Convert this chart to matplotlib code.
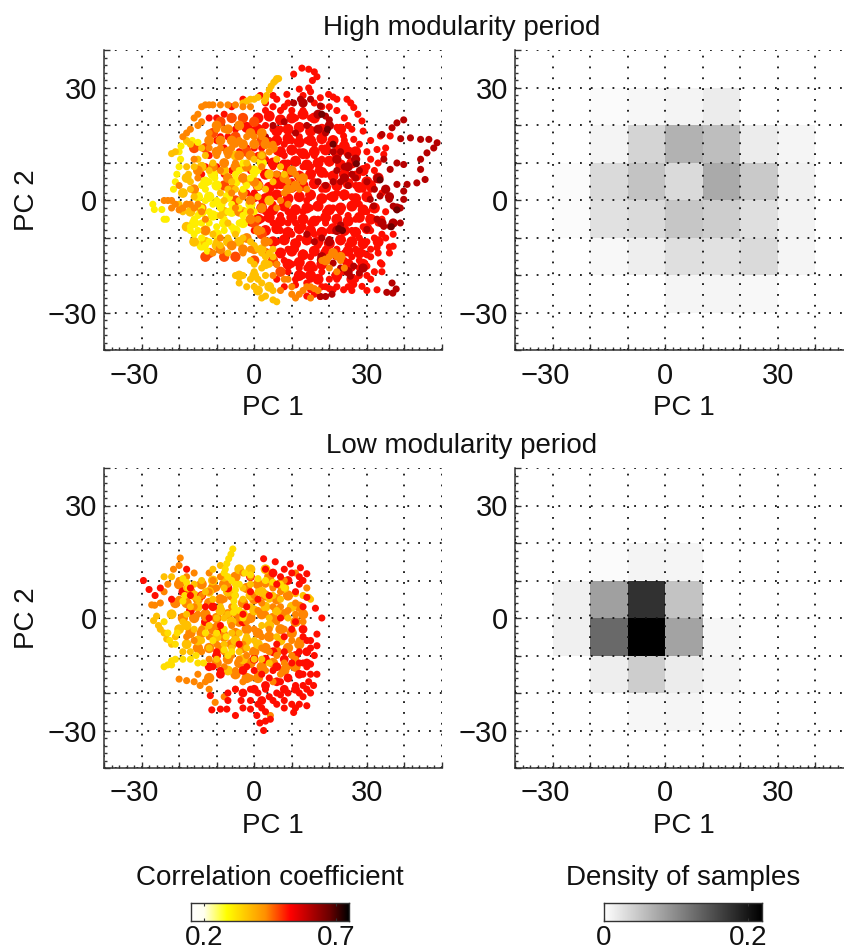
import matplotlib

matplotlib.use("Agg")
import matplotlib.pyplot as plt
import numpy as np
from matplotlib.colors import LinearSegmentedColormap, Normalize
from matplotlib.transforms import ScaledTranslation

plt.rcParams["font.family"] = ["Liberation Sans", "DejaVu Sans"]

W, H = 845, 951

# correlation level of each point group, scatter panels
CORR_YELLOW, CORR_GOLD, CORR_AMBER, CORR_ORANGE, CORR_REDORANGE, CORR_RED, CORR_DARK, CORR_DARKEST = 0.31, 0.33, 0.37, 0.44, 0.48, 0.52, 0.60, 0.67

# dense middle of the clouds, drawn first with larger dots
high_core_red = [
    (1, 22), (4, 22.5), (7, 21.5), (10, 22), (13, 23), (16, 22), (-2, 19.5), (1, 19), (6, 18.5), (9, 19), (12, 19.5), (15, 18.5),
    (18, 19), (23, 19), (6, 16), (9, 16.5), (12, 15.5), (15, 16), (18, 16.5), (21, 16), (24, 14.5), (27, 13), (7, 13), (10, 13.5),
    (13, 12.5), (16, 13), (19, 13.5), (22, 12.5), (25, 13), (5, 10), (8, 9.5), (11, 10.5), (14, 9.5), (17, 10), (20, 10.5), (23, 9.5),
    (26, 10), (29, 8), (3, 7), (6, 6.5), (9, 7.5), (12, 6.5), (15, 7), (18, 7.5), (21, 6.5), (24, 7), (27, 6.5), (30, 5), (33, 6),
    (1, 4), (4, 3.5), (7, 4.5), (10, 3.5), (13, 4), (16, 4.5), (19, 3.5), (22, 4), (25, 4.5), (28, 3.5), (31, 4), (0, 1), (3, 0.5),
    (6, 1.5), (9, 0.5), (12, 1), (15, 1.5), (18, 0.5), (21, 1), (24, 1.5), (27, 0.5), (30, 1), (2, -2), (5, -2.5), (8, -1.5), (11, -2.5),
    (14, -2), (17, -1.5), (20, -2.5), (23, -2), (26, -1.5), (29, -2.5), (32, -2), (1, -5), (4, -4.5), (7, -5.5), (10, -4.5), (13, -5),
    (16, -5.5), (19, -4.5), (22, -5), (25, -5.5), (28, -4.5), (31, -5), (3, -8), (6, -7.5), (9, -8.5), (12, -7.5), (15, -8), (18, -8.5),
    (21, -7.5), (24, -8), (27, -8.5), (30, -7.5), (5, -11), (8, -10.5), (11, -11.5), (14, -10.5), (17, -11), (20, -11.5), (23, -10.5),
    (26, -11), (29, -11.5), (33, -11), (7, -14), (10, -13.5), (13, -14.5), (16, -13.5), (19, -14), (22, -14.5), (25, -13.5), (28, -14),
    (9, -17), (12, -16.5), (15, -17.5), (18, -17), (25, -17), (29, -17), (12, -20), (15, -20), (17, -21), (22, -20), (26, -21),
]
high_core_redorange = [
    (-9, 21), (-6, 22), (-3, 22), (0, 21), (-5, 17), (-2, 13), (2, 16), (-8, 4), (-5, 0), (0, -6), (2, -9), (-5, -15), (0, -16),
    (3, -14), (5, -16), (-12, -14), (-11, 18), (-13, 14), (-16, 14), (-8, -15), (-13, -15), (7, -19),
]
high_core_orange = [
    (-10, 20), (-7, 19), (-4, 20), (-1, 18), (2, 18), (-12, 16), (-9, 16), (-6, 16), (-3, 15), (0, 15), (3, 15), (5, 14), (-10, 13),
    (-7, 13), (-4, 12), (-1, 12), (2, 12), (-11, 9), (-8, 10), (-5, 9), (-2, 9), (-3, 6), (0, 5), (-7, 6), (10, 8), (8, 6), (11, 4),
    (13, 6), (9, 3), (-6, 3), (-3, 2), (-1, 0), (2, -2), (-4, -3), (-1, -5), (1, -8), (3, -11), (-2, -10), (-6, -12), (-9, -13), (-3, -13),
    (0, -13), (21, -14), (23, -15), (19, -16), (-13, -8), (-16, 3), (-15, 8), (-14, -2),
]
high_core_amber = [
    (-18, 6), (-19, 2), (-17, -3), (-18, -7), (-16, -11), (-13, -11), (-10, -12), (-7, -11), (-4, -11), (-14, 9), (-8, 8), (-5, 12),
    (-2, 5), (1, 4), (4, 7), (4, 0), (-3, -3), (-8, -3), (2, -13), (3, -17), (0, -20), (1, -24), (-4, -20), (4, -23),
]
high_core_yellow = [
    (-16, -6), (-13, -8), (-10, -9), (-14, -3), (-11, -4), (-8, -6), (-5, -8), (-15, 1), (-12, 1), (-9, -1), (-6, -3), (-3, -6),
    (-13, 5), (-10, 4), (-7, 1), (-11, 7), (-5, 5), (-3, 9), (0, 8), (2, 10), (-14, -12), (-1, -1),
]
high_core_dark = [
    (22, 11), (25, 9), (27, 11), (24, 6), (20, 20), (17, 23), (13, 26), (17, 19), (36, 1), (38, -2), (34, -6), (37, -6), (35, 3), (33, 6),
    (22, -8), (20, -11), (18, -15), (25, -19), (29, -18),
]

low_core_orange = [
    (-20, 9), (-17, 7), (-14, 9), (-11, 8), (-8, 9), (-5, 11), (-2, 8), (1, 9), (4, 11), (7, 9), (-21, 4), (-18, 4), (-15, 5), (-12, 4),
    (-9, 5), (-6, 6), (-3, 4), (0, 5), (3, 6), (6, 5), (9, 6), (12, 3), (-19, 0), (-16, 0), (-13, 1), (-10, 0), (-7, 1), (-4, -1), (-1, 0),
    (2, 1), (5, 0), (8, 1), (11, -1), (13, 1), (-17, -4), (-14, -4), (-11, -3), (-8, -5), (-5, -4), (-2, -3), (1, -4), (4, -5), (7, -3),
    (10, -4), (-15, -8), (-12, -8), (-9, -8), (-6, -7), (-3, -8), (0, -9), (3, -8), (6, -9), (9, -8), (12, -7), (-10, -12), (-7, -11),
    (-4, -12), (-1, -12), (2, -13), (5, -12), (8, -14), (11, -13), (-5, -15), (-2, -16), (1, -16), (-12, -16),
]
low_core_amber = [
    (-22, 1), (-20, -3), (-18, -7), (-15, 3), (-12, 7), (-9, 2), (-6, -1), (-3, 1), (0, 2), (3, 3), (6, 2), (-1, 6), (2, 7), (5, 9), (-7, 7),
    (-10, -5), (-13, -2), (-5, -6), (-2, -6), (1, -7), (4, -2), (7, -6), (-16, 6), (-8, 11), (-4, 13), (-1, 13), (3, 13), (-3, -11), (-7, -14),
    (-15, -6), (-11, 10), (10, 3), (8, 8), (-18, -2),
]
low_core_red = [
    (-14, 6), (-19, 7), (-13, -1), (-11, 3), (-9, -3), (-17, 2), (-12, -13), (-9, -15), (-10, -10), (-7, 8), (-3, -1), (0, -11), (3, -11),
    (5, -9), (6, -13), (8, -11), (9, -16), (11, -10), (12, -15), (14, -9), (13, -3), (14, -12), (6, -17), (3, -18), (0, -19), (-3, -20),
    (8, -19), (11, -19), (2, -22), (-1, 11), (5, 12), (-3, -14), (9, 10),
]

high_red = [
    (1.6, 28), (5, 28), (8.7, 28.3), (12, 29.7), (14.5, 30), (10.5, 33.7), (12.7, 35.3), (14.5, 35), (16, 34.3),
    (16.7, 33), (15.5, 32), (17.6, 27.4), (19.8, 28.3), (21, 27.6), (22, 27), (24.7, 27), (25.7, 26), (26.5, 24.8),
    (27.6, 23), (28.7, 21.2), (29, 18.5), (26.5, 16.3), (23.8, 17.2), (33.6, 17.2), (36.2, 17.2), (32.7, 13.6),
    (34.5, 12.3), (37, -12.2), (36, -12.4), (32.7, -12.6), (33.6, -16.6), (30, -17.5), (15, -23.8), (17.6, -25.6),
    (21, -23.8), (23.8, -23.8), (26.5, -22.4), (28.7, -22.9), (32.7, -23.8), (-3, 27), (-6, 25), (-8, 23), (-10, 22),
    (-12, 22), (-14, 7), (-13, 9), (-12, 12), (-10, 16), (-9, 17), (-8, 14), (-7, 17), (-5, 19), (-3, 20), (-1, 19),
    (1, 19), (3, 20), (5, 19), (7, 19), (9, 19), (11, 22), (13, 24), (15, 22), (7, 24), (9, 26), (5, 25), (3, 24),
    (-6, 8), (-4, 13), (-2, 14), (0, 14), (2, 14), (4, 16), (6, 16), (8, 15), (10, 16), (12, 17), (14, 16), (16, 15),
    (18, 14), (20, 15), (22, 14), (24, 16), (6, 13), (8, 12), (10, 13), (12, 13), (14, 12), (16, 12), (18, 11),
    (20, 10), (22, 12), (-1, 8), (1, 5), (3, 7), (5, 9), (9, 10), (11, 10), (13, 9), (15, 9), (17, 8), (19, 7), (21, 7),
    (24, 6), (27, 4), (29, 3), (31, 3), (0, 2), (2, 0), (4, 2), (6, 4), (8, 4), (10, 5), (12, 1), (14, 0), (16, 4),
    (18, 3), (20, 1), (22, 2), (24, 2), (26, 1), (28, -1), (30, -3), (32, -5), (34, -5), (3, -3), (5, -1), (7, -4),
    (9, -3), (11, -2), (13, -3), (15, -2), (17, -1), (19, -3), (21, -2), (23, -3), (25, -4), (27, -5), (29, -7),
    (31, -8), (33, -6), (5, -6), (7, -8), (9, -6), (11, -6), (13, -7), (15, -6), (17, -5), (19, -6), (24, -7), (26, -8),
    (28, -10), (30, -11), (32, -10), (34, -9), (6, -11), (8, -10), (10, -9), (12, -10), (14, -11), (16, -9), (18, -8),
    (20, -8), (23, -11), (25, -12), (27, -13), (29, -14), (7, -14), (9, -13), (11, -13), (13, -14), (15, -15), (17, -12),
    (19, -13), (22, -13), (24, -14), (26, -15), (28, -16), (31, -15), (6, -17), (8, -16), (10, -17), (12, -18), (14, -18),
    (16, -18), (18, -19), (20, -21), (22, -21), (24, -19), (26, -18), (28, -18), (9, -19), (11, -21), (13, -20), (15, -21),
    (17, -21), (19, -23), (-2, 2), (-1, -6), (2, -5), (0, -8), (-2, 5), (-8, 7), (-10, 9), (1, 12), (3, 11), (12, 6),
]
# sparse loops around the rim of the high modularity cloud
high_rim_red = [
    (3, 26), (6, 27), (8, 25), (10, 24), (13, 28), (15, 29), (16, 26), (18, 25), (20, 25), (22, 24), (24, 22), (25, 20), (22, 19.5), (26, 19),
    (28, 15), (30, 13), (31, 16), (31, 11), (33, 10), (35, 14), (30, 9), (32, 8), (34, 2), (35, -3), (35, -10), (36, -14), (33, -14), (31, -13),
    (30, -14.5), (28, -20), (30, -20), (27, -21), (25, -23), (22, -23), (20, -23.5), (18, -23), (16, -25), (14, -25.5), (26, -24), (30, -24),
    (32, -19), (34, -19), (31, -21), (14, -22), (11, -22.5), (8, -23), (6, -21), (24, -16), (34, -17), (37, -9),
]
high_dark = [
    (38, 20.7), (39.8, 21.5), (36.7, 19.4), (34, 17.6), (39, 16.5), (41.6, 16.7), (44.3, 16.3), (46.5, 16.3), (48.7, 15.4),
    (47.8, 14), (46, 12.7), (44.3, 11), (39.8, 9.6), (44.3, 8.3), (45.5, 5.6), (43.3, 4.7), (40.7, 4.3), (38, 4.3),
    (39.8, 2.5), (39.8, 0.3), (38.9, -2), (37, -1.5), (36, 0.3), (33.5, 1.2), (38.9, -6), (36.2, -6.9), (34.5, -6.9),
    (32.7, 5.6), (36.2, 8.3), (38, 10), (34.5, 11), (32.7, -5), (30, -7.7), (30.9, 0.3), (31.8, -1.5), (36.9, -24.7),
    (37.8, -23.6), (36.7, -22), (35.3, -24.5), (10.5, 26), (12.3, 27), (15, 27), (17.6, 25.2), (19, 22.5), (20, 21.5),
    (19, 18), (17, 19), (14, 20), (11, 18), (8, 21), (5, 20), (3, 17), (21, 13), (23, 13), (25, 12), (27, 10), (28, 8),
    (26, 7), (24, 9), (22, 8), (21, 5), (23, 5), (25, 4), (27, 6), (30, 5), (32, 3), (17, 5), (19, 4), (22, -7.7),
    (23, -6.5), (20, -10.4), (18, -10), (17.6, -15.8), (21, -16.7), (23, -18), (25.6, -20.2), (28, -19.3), (26.5, -17.5),
    (17.6, -25.6), (20.7, -25), (19, -25.6), (14, -9), (16, -11),
]
high_darkest = [(27.2, 9.8), (33.5, 5.5), (22.5, -7.5), (23.5, -8), (36.5, -7), (38, -2.5), (21, 15), (19.5, 19), (18, 23)]
high_orange = [
    (-24, 0), (-23, 0), (-22, 0), (-21, -1), (-20, -2.5), (-19, -2), (-18, -1), (-17, -1), (-16, -2), (-15, -1), (-14, -3),
    (-13, -5), (-22, -2), (-20, 4), (-16, 22), (-15, 23), (-14, 25), (-13, 25.5), (-12, 25.5), (-11, 25.5), (-9, 25.5),
    (-7, 25.5), (-5, 25.5), (-3, 25), (-1, 25), (-14, 21), (-15, 20), (-17, 19), (-18, 18), (-19, 17), (-7, 12), (-6, 14),
    (-5, 15), (-4, 16), (-2, 17), (0, 17), (2, 17), (3, 16), (5, 15), (4, 13), (-8, 10), (-9, 8), (-10, 12), (-12, 14),
    (-12, 18), (-10, 19), (-8, 19), (-6, 2), (-5, -2), (-3, 1), (-1, -3), (1, -5), (2, -8), (3, -11), (-1, -13), (-3, -14),
    (-6, -12), (-9, -10), (-11, -14), (10, 8), (11, 7), (12, 6), (13, 5), (14, 3), (12, 3), (10, 3), (9, 5), (8, 2), (7, 0),
    (6, -2), (9, -1), (18, -16), (20, -15), (22, -15), (23, -16), (24, -18), (22, -19), (20, -18), (12, -25), (13, -24),
    (14, -23), (15, -23), (16, -23.5), (17, -24), (15, -26), (11, -26), (10, -25), (10, -23), (9, -21), (8, -21), (7, -24),
    (5, -20), (6, -17), (4, -11), (-16, 11), (-15, 6), (-9, 14), (-5, 10), (2, 9), (6, 7),
]
high_amber = [
    (6, 32.5), (6.5, 32.5), (5.7, 32), (5.2, 31.5), (4.5, 30.5), (4, 29.5), (3.3, 28), (3, 27), (2.7, 26.5), (1, 27.5), (0, 27),
    (-1, 27), (-2, 26.5), (-3, 26), (-21, 13), (-22, 12.5), (-18, 9), (-17.5, 7), (-17, 5), (-17, 3), (-16, 1), (-18, -1),
    (-20, -1), (-19, -3), (-18, 16), (-17, 15), (-14, 14), (-15, 11), (-16, 9), (-13, 12), (-12, 8), (-11, 10), (-9, 2), (-8, 0),
    (-7, 3), (-6, 5), (-5, 3), (-4, 0), (-9, -4), (-7, -6), (-11, -9), (-10, -11), (-9, -12), (-7, -10), (-5, -9), (-3, -10),
    (-1, -11), (0, -12), (1, -13), (2, -14), (3, -15), (4, -14), (5, -13), (5, -15), (4, -17), (2, -18), (0, -17), (0, -19),
    (-1, -21), (-3, -20), (-5, -20), (-4, -22), (0, -23), (2, -22), (4, -23), (5, -24), (2, -26), (3, -25.5), (5, -26.5), (6, -27),
    (-2, -23), (-1, -16), (1, -21), (3, -20), (-7, -14), (-2, 10), (0, 11), (2, 12), (4, 13), (6, 11), (7, 9), (8, 7), (5, 5),
    (3, 3), (1, 1),
]
high_yellow = [
    (-27, -1), (-26.6, -2.4), (-24.6, -2.4), (-24, -5), (-23.4, -5), (-21.5, 3), (-21, 5), (-20.6, 7), (-20, 9), (-19.6, 11),
    (-20, 13), (-19.5, 14.5), (-18, 15.7), (-16.5, 16), (-15, 15.5), (-17, -7), (-17, -8), (-16, -9), (-15, -8), (-14, -10),
    (-13, -12), (-12.5, -13.5), (-12, -11), (-14, 4), (-13, 3), (-12, 5), (-11.5, 7), (-10.5, 6), (-10, 4), (-13, 0), (-14, -2),
    (-12, -3), (-11, -1), (-10, 0), (-10, -4), (-9, -2), (-8, -5), (-12, -6), (-10, -7), (-8, -8), (-6, -7), (-4, -6), (-7, -3),
    (-6, -1), (-4, -2), (-3, -4), (-2, -3), (-1, -2), (0, -3), (-15, -4), (-16, -5), (-14, -6), (-3, 3), (-2, 4), (-1, 6), (0, 7),
    (1, 8), (2, 9), (-4, 8), (-3, 10), (-5, 7),
]

low_red = [
    (-29.5, 10), (-28, 7.6), (-26.4, 6), (-22, 5), (-17, 8), (-11.7, -20.7), (-11.3, -24.5), (-9, -24.3), (-7.3, -24.3), (-5, -26),
    (-3.5, -22), (-1, -24.3), (0.7, -26), (1.5, -28), (2.5, -30), (4.3, -27), (3, -25), (2, -24), (6, -23), (8, -22), (10.5, -25.2),
    (11, -24), (14, -23.4), (13, -21), (15.8, -18), (14.5, -17), (16.7, -15), (15, -12.3), (14, -13), (16.7, -7.4), (15, -8),
    (16.7, -4.3), (15, -6), (18, 0), (16.3, 2.6), (14, 5.5), (13, 3), (14, 11.8), (12.3, 13.4), (13, 10), (12, 9), (11, 7),
    (9.6, 14.4), (5.6, 15), (2.5, 15.8), (3, 13), (5, 12), (7, 11), (-9, -2), (-13, 3), (-17, 6), (-11, -13), (-9, -14), (-10, -9),
    (-3, 1), (-2, 3), (-1, 7), (-2, -13), (0, -14), (2, -15), (4, -16), (5, -14), (7, -17), (9, -16), (11, -18), (12, -20), (13, -15),
    (9, -20), (6, -20), (3, -19), (1, -20), (-1, -19), (-5, -19), (-7, -20), (6, -7), (8, -5), (7, 0), (10, -3), (12, -9), (10, -12),
    (6, -13), (8, -9), (11, -1), (4, 6), (6, 9), (1, 5), (-4, -7), (-12, 0),
    (15, -20), (14, -19), (13, -18), (15, -15), (13, -12), (12, -12), (16, -10), (14, -6), (13, -5), (12, -23), (10, -23), (8, -24), (7, -20.5),
    (5, -22), (4, -21), (1, -23), (-1, -22), (-3, -24), (-7, -22), (3, -27.5), (8, 13), (10, 12), (12, 11), (-18, 13), (-25, 8),
]
low_orange = [
    (-19.7, 16), (-20, 14), (-21.5, 13), (-27.3, 3.5), (-26.5, 3.4), (-25, 4), (-24, 7), (-23, 9), (-20, 10), (-18, 11), (-16, 12),
    (-12, 12), (-11, 10), (-10, 8), (-8, 5), (-6, 3), (-5, 1), (-20, 5), (-18, 4), (-16, 3), (-15, 1), (-13, 0), (-14, -3), (-12, -5),
    (-10, -7), (-8, -9), (-6, -10), (-4, -11), (-2, -10), (0, -9), (2, -8), (4, -9), (6, -10), (8, -12), (10, -10), (-20, -16.3),
    (-18, -16.7), (-16, -17), (-14.4, -18), (-13, -17), (-15, -15), (-12, -19), (-10.4, -22.5), (-8, -21), (-5, -19), (-3, -17),
    (-1, -16), (1, -15), (3, -14), (5, -17), (7, -15), (9, -13), (11, -11), (12, -6), (10, -6), (8, -3), (6, -1), (4, -3), (2, -5),
    (0, -3), (-2, -1), (-4, 0), (-6, -2), (-8, -4), (-10, -2), (1, 2), (3, 1), (5, 3), (7, 3), (9, 2), (11, 1), (13, -1), (11, 4),
    (9, 6), (7, 7), (5, 8), (3, 9), (1, 10), (-1, 11), (-3, 12), (-5, 10), (-7, 9), (-9, 11), (-12, 7), (-14, 6), (-16, -6), (-18, -5),
    (-14, -9), (-12, -11), (-8, -13), (-5, -14), (-3, -7), (0, 6), (2, 4), (8, 10), (4.3, -26), (14, 8), (11, 12),
]
low_amber = [
    (-26.8, -0.7), (-26, 0.5), (-25.5, -2), (-25, -3), (-24, -4), (-23.3, -5.6), (-22, -7), (-21, -5), (-20, -3), (-19, -1), (-18, 1),
    (-17, 3), (-15, 5), (-13, 7), (-11, 5), (-9, 3), (-7, 1), (-12, -2), (-10, 0), (-8, 0), (-6, -4), (-4, -4), (-2, -5), (0, -6), (2, -2),
    (4, 0), (6, 2), (-3, 5), (-1, 3), (1, 7), (3, 6), (5, 6), (7, 5), (9, 0), (-16, -3), (-14, -6), (-12, -8), (-10, -11), (-8, -7),
    (-6, -8), (-8, 8), (-5, 6), (-3, 8), (-1, 9), (-11, 13), (-9, 14), (-14, 10), (-16, 9), (-18, 8), (-22, 11), (-24, 11), (11, 6.5),
    (13, 6), (14.5, 5.5), (15, 5), (4, 5), (-2, -8), (0, -11), (2, -11), (4, -12), (-4, -9), (6, -5), (-19, -9), (-17, -9),
]
low_yellow = [
    (-5.7, 18.4), (-6.2, 17), (-6.8, 15.8), (-7.3, 14.5), (-7.7, 13), (-8, 12), (-7, 11), (-6, 10), (-5, 9), (-5, 7.5), (-5.2, 6), (-5.4, 4.5),
    (-5.3, 3), (-5.5, 1.5), (-4, 2), (-3, 0), (-2.5, 12), (-1, 11.5), (1, 10.5), (3, 10), (5, 9.5), (7, 9), (8, 8), (-4, 9), (-19, 10.5),
    (-18, 9.5), (-17.5, 8), (-18.5, 6), (-19, 4.5), (-23, -4), (-22.5, -6), (-21, -7), (-20.5, -4), (-24, -1), (-22, -12.5), (-22, -11.4),
    (-21, -11), (-24, -13), (-23, -12.5), (-19, -11), (-17, -11), (-15, -12), (-13.5, -12), (-15.5, -10), (-8, -3), (-7.5, -5), (-8, -8.5),
    (-7, -10), (-6, -9), (-10, -4), (-11, -6), (-13, -4),
]

high_density = [
    [0, 0, 0, 0, 0, 0, 0, 0, 0],
    [0, 0, 0, 0, 0.009, 0.009, 0.006, 0, 0],
    [0, 0, 0.006, 0.015, 0.028, 0.026, 0.032, 0.009, 0],
    [0, 0.004, 0.026, 0.032, 0.049, 0.043, 0.028, 0.011, 0],
    [0, 0.004, 0.032, 0.052, 0.032, 0.073, 0.047, 0.013, 0],
    [0, 0, 0.010, 0.037, 0.066, 0.056, 0.017, 0.009, 0],
    [0, 0, 0.004, 0.007, 0.010, 0.017, 0, 0, 0],
    [0, 0, 0, 0, 0, 0, 0, 0, 0],
]
low_density = [
    [0, 0, 0, 0, 0, 0, 0, 0, 0],
    [0, 0, 0, 0.007, 0.009, 0.004, 0, 0, 0],
    [0, 0, 0.015, 0.043, 0.017, 0.009, 0, 0, 0],
    [0, 0.013, 0.129, 0.220, 0.079, 0.007, 0, 0, 0],
    [0, 0.013, 0.082, 0.177, 0.052, 0, 0, 0, 0],
    [0, 0, 0.004, 0.010, 0.009, 0, 0, 0, 0],
    [0, 0, 0, 0, 0, 0, 0, 0, 0],
    [0, 0, 0, 0, 0, 0, 0, 0, 0],
]

TICKS = [-30, 0, 30]
TICK_LABELS = ["\u221230", "0", "30"]
CORR_TICKS = [0.2, 0.7]
DENSITY_TICKS = [0, 0.2]
CORR_RANGE = (0.153, 0.749)
DENSITY_RANGE = (0, 0.219)

INK = "#111111"
AXIS = "#333333"

HOT = LinearSegmentedColormap.from_list(
    "hot_white",
    [(0, "#ffffff"), (0.08, "#fffff0"), (0.225, "#ffff00"), (0.47, "#ff9000"), (0.63, "#ff0000"), (0.88, "#6a0000"), (1, "#000000")],
)
corr_norm = Normalize(*CORR_RANGE)
dens_norm = Normalize(*DENSITY_RANGE)


def add_axes_px(left, top, right, bottom):
    return plt.gcf().add_axes([left / W, 1 - bottom / H, (right - left) / W, (bottom - top) / H])


def style_panel(ax, ylabel=None):
    ax.set_xlim(-40, 50)
    ax.set_ylim(-40, 40)
    ax.set_xticks(np.arange(-40, 51, 10))
    ax.set_yticks(np.arange(-40, 41, 10))
    ax.set_xticks(np.arange(-40, 51, 2), minor=True)
    ax.set_yticks(np.arange(-40, 41, 2), minor=True)
    ax.set_xticklabels([TICK_LABELS[TICKS.index(t)] if t in TICKS else "" for t in range(-40, 51, 10)])
    ax.set_yticklabels([TICK_LABELS[TICKS.index(t)] if t in TICKS else "" for t in range(-40, 41, 10)])
    ax.tick_params(which="major", direction="in", length=4, width=1, color=AXIS, labelsize=21, labelcolor=INK)
    ax.tick_params(axis="x", which="major", pad=8)
    ax.tick_params(axis="y", which="major", pad=5)
    ax.tick_params(which="minor", direction="in", length=2, width=1, color=AXIS)
    ax.grid(True, which="major", color="#111111", linewidth=1.3, linestyle=(0, (1, 5)), zorder=1)
    ax.spines["top"].set_visible(False)
    ax.spines["right"].set_visible(False)
    for side in ("left", "bottom"):
        ax.spines[side].set_color(AXIS)
        ax.spines[side].set_linewidth(1.1)
    ax.set_xlabel("PC 1", fontsize=20, color=INK)
    ax.xaxis.set_label_coords(0.5, -0.15)
    if ylabel:
        ax.set_ylabel(ylabel, fontsize=20, color=INK)
        ax.yaxis.set_label_coords(-0.19, 0.5)
    # the reference centres the digits of -30 on the tick, not the whole label
    for label in ax.get_xticklabels():
        if label.get_text().startswith("\u2212"):
            label.set_transform(label.get_transform() + ScaledTranslation(-7 / 100, 0, plt.gcf().dpi_scale_trans))


def scatter_group(ax, points, corr, size=24):
    pts = np.array(points)
    ax.scatter(pts[:, 0], pts[:, 1], c=np.full(len(pts), corr), cmap=HOT, norm=corr_norm, s=size, linewidths=0, zorder=3)


def density_panel(ax, density):
    ax.pcolormesh(np.arange(-40, 51, 10), np.arange(-40, 41, 10), np.array(density), cmap="gray_r", norm=dens_norm, zorder=0)
    ax.set_axisbelow(False)


def colorbar(left, right, cmap, norm, ticks, title, title_x):
    cax = add_axes_px(left, 902.5, right, 921)
    ramp = np.linspace(norm.vmin, norm.vmax, 256)[None, :]
    cax.imshow(ramp, aspect="auto", cmap=cmap, norm=norm, extent=[norm.vmin, norm.vmax, 0, 1])
    cax.set_yticks([])
    cax.set_xticks(ticks)
    cax.set_xticklabels([str(t) for t in ticks])
    cax.tick_params(axis="x", direction="in", length=2, width=0.8, top=True, color=AXIS, labelsize=20, labelcolor=INK, pad=3)
    for spine in cax.spines.values():
        spine.set_color(AXIS)
        spine.set_linewidth(1)
    plt.gcf().text(title_x / W, 1 - 878 / H, title, fontsize=20, color=INK, ha="center", va="center")


fig = plt.figure(figsize=(W / 100, H / 100), dpi=100, facecolor="white")

ax = add_axes_px(104, 50.5, 442, 350.5)
for points, corr, size in [
    (high_core_red, CORR_RED, 62),
    (high_red, CORR_RED, 26),
    (high_rim_red, CORR_RED, 26),
    (high_dark, CORR_DARK, 26),
    (high_core_dark, CORR_DARK, 44),
    (high_darkest, CORR_DARKEST, 26),
    (high_core_redorange, CORR_REDORANGE, 55),
    (high_core_yellow, CORR_YELLOW, 55),
    (high_core_amber, CORR_AMBER, 50),
    (high_core_orange, CORR_ORANGE, 50),
    (high_yellow, CORR_YELLOW, 26),
    (high_amber, CORR_AMBER, 26),
    (high_orange, CORR_ORANGE, 26),
]:
    scatter_group(ax, points, corr, size)
style_panel(ax, "PC 2")

ax = add_axes_px(515, 50.5, 853, 350.5)
density_panel(ax, high_density)
style_panel(ax)

ax = add_axes_px(104, 468, 442, 768)
for points, corr, size in [
    (low_core_orange, CORR_ORANGE, 55),
    (low_core_amber, CORR_AMBER, 50),
    (low_core_red, CORR_RED, 40),
    (low_orange, CORR_ORANGE, 26),
    (low_amber, CORR_AMBER, 26),
    (low_yellow, CORR_GOLD, 26),
    (low_red, CORR_RED, 26),
]:
    scatter_group(ax, points, corr, size)
style_panel(ax, "PC 2")

ax = add_axes_px(515, 468, 853, 768)
density_panel(ax, low_density)
style_panel(ax)

fig.text(462 / W, 1 - 28 / H, "High modularity period", fontsize=20, color=INK, ha="center", va="center")
fig.text(462 / W, 1 - 446 / H, "Low modularity period", fontsize=20, color=INK, ha="center", va="center")

colorbar(191.5, 349, HOT, corr_norm, CORR_TICKS, "Correlation coefficient", 270)
colorbar(604, 762, "gray_r", dens_norm, DENSITY_TICKS, "Density of samples", 683)

fig.savefig("out.png", dpi=100, facecolor="white")
plt.close(fig)
